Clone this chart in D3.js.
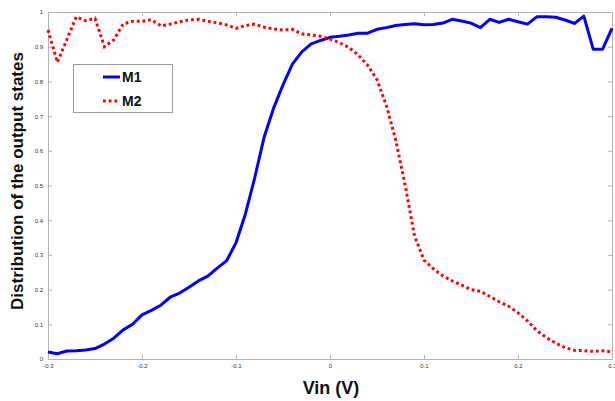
<!DOCTYPE html>
<html>
<head>
<meta charset="utf-8">
<script src="https://cdn.jsdelivr.net/npm/d3@7"></script>
<style>
  html, body { margin: 0; padding: 0; background: #fff; }
  svg { display: block; }
</style>
</head>
<body>
<script>
// ---- data ----
const vin = d3.range(61).map(i => Math.round((-0.3 + i * 0.01) * 100) / 100);
const m1 = [
  0.020, 0.015, 0.023, 0.024, 0.026, 0.030, 0.043, 0.060, 0.084, 0.100,
  0.127, 0.140, 0.155, 0.178, 0.190, 0.207, 0.225, 0.239, 0.262, 0.283,
  0.335, 0.418, 0.523, 0.640, 0.723, 0.790, 0.850, 0.885, 0.908, 0.918,
  0.927, 0.930, 0.934, 0.939, 0.939, 0.950, 0.955, 0.961, 0.964, 0.966,
  0.963, 0.964, 0.968, 0.979, 0.974, 0.968, 0.955, 0.979, 0.970, 0.979,
  0.972, 0.965, 0.986, 0.986, 0.985, 0.977, 0.967, 0.988, 0.893, 0.893,
  0.953
];
const m2 = [
  0.948, 0.855, 0.920, 0.986, 0.975, 0.982, 0.900, 0.920, 0.966, 0.973,
  0.973, 0.978, 0.960, 0.965, 0.972, 0.977, 0.979, 0.973, 0.969, 0.963,
  0.953, 0.961, 0.965, 0.956, 0.951, 0.948, 0.950, 0.937, 0.934, 0.930,
  0.922, 0.912, 0.898, 0.876, 0.847, 0.805, 0.730, 0.630, 0.500, 0.354,
  0.285, 0.260, 0.240, 0.225, 0.213, 0.200, 0.195, 0.180, 0.165, 0.152,
  0.133, 0.110, 0.082, 0.062, 0.046, 0.033, 0.025, 0.024, 0.022, 0.024,
  0.020
];
const xTicks = [-0.3, -0.2, -0.1, 0, 0.1, 0.2, 0.3];
const xTickLabels = ["-0.3", "-0.2", "-0.1", "0", "0.1", "0.2", "0.3"];
const yTicks = [0, 0.1, 0.2, 0.3, 0.4, 0.5, 0.6, 0.7, 0.8, 0.9, 1];
const yTickLabels = ["0", "0.1", "0.2", "0.3", "0.4", "0.5", "0.6", "0.7", "0.8", "0.9", "1"];
const seriesNames = ["M1", "M2"];
const xLabel = "Vin (V)";
const yLabel = "Distribution of the output states";

// ---- layout ----
const W = 615, H = 401;
const L = 48, R = 612, T = 12, B = 359;
const axisColor = "#b4b4b4";
const textColor = "#333";

const svg = d3.select("body").append("svg").attr("width", W).attr("height", H);

const x = d3.scaleLinear().domain([-0.3, 0.3]).range([L, R]);
const y = d3.scaleLinear().domain([0, 1]).range([B, T]);

function styleAxis(g, showText) {
  g.select(".domain").attr("stroke", axisColor);
  g.selectAll(".tick line").attr("stroke", axisColor);
  g.selectAll(".tick text")
    .attr("fill", textColor)
    .style("font-family", "'Liberation Sans', Arial, sans-serif")
    .style("font-size", "6px");
  if (!showText) g.selectAll(".tick text").remove();
}

// bottom
svg.append("g").attr("transform", `translate(0,${B})`)
  .call(d3.axisBottom(x).tickValues(xTicks)
    .tickFormat((d, i) => xTickLabels[i]).tickSizeInner(-4).tickSizeOuter(0).tickPadding(5))
  .call(g => styleAxis(g, true));
// top
svg.append("g").attr("transform", `translate(0,${T})`)
  .call(d3.axisTop(x).tickValues(xTicks).tickSizeInner(-4).tickSizeOuter(0))
  .call(g => styleAxis(g, false));
// left
svg.append("g").attr("transform", `translate(${L},0)`)
  .call(d3.axisLeft(y).tickValues(yTicks)
    .tickFormat((d, i) => yTickLabels[i]).tickSizeInner(-4).tickSizeOuter(0).tickPadding(5))
  .call(g => styleAxis(g, true));
// right
svg.append("g").attr("transform", `translate(${R},0)`)
  .call(d3.axisRight(y).tickValues(yTicks).tickSizeInner(-4).tickSizeOuter(0))
  .call(g => styleAxis(g, false));

// ---- lines ----
const line = d3.line().x((d, i) => x(vin[i])).y(d => y(d));

svg.append("path").datum(m1)
  .attr("d", line).attr("fill", "none")
  .attr("stroke", "#0000ff").attr("stroke-width", 3)
  .attr("stroke-linejoin", "round");

svg.append("path").datum(m2)
  .attr("d", line).attr("fill", "none")
  .attr("stroke", "#ff0000").attr("stroke-width", 3)
  .attr("stroke-dasharray", "2.8,2.9");

// ---- labels ----
svg.append("text")
  .attr("x", 331).attr("y", 394)
  .attr("text-anchor", "middle")
  .style("font-family", "'Liberation Sans', Arial, sans-serif")
  .style("font-weight", "bold").style("font-size", "18px")
  .attr("fill", "#111")
  .text(xLabel);

svg.append("text")
  .attr("transform", "translate(23,181) rotate(-90)")
  .attr("text-anchor", "middle")
  .style("font-family", "'Liberation Sans', Arial, sans-serif")
  .style("font-weight", "bold").style("font-size", "17px")
  .attr("fill", "#111")
  .text(yLabel);

// ---- legend ----
const lg = svg.append("g");
lg.append("rect")
  .attr("x", 73.5).attr("y", 64.5).attr("width", 99).attr("height", 48)
  .attr("fill", "#fff").attr("stroke", "#9a9a9a").attr("stroke-width", 1);
const legendColors = ["#0000ff", "#ff0000"];
const legendDash = [null, "2.8,2.9"];
const legendY = [77, 101];
seriesNames.forEach((name, i) => {
  lg.append("line")
    .attr("x1", 103).attr("x2", 120)
    .attr("y1", legendY[i]).attr("y2", legendY[i])
    .attr("stroke", legendColors[i]).attr("stroke-width", 3)
    .attr("stroke-dasharray", legendDash[i]);
  lg.append("text")
    .attr("x", 122).attr("y", legendY[i] + 5)
    .style("font-family", "'Liberation Sans', Arial, sans-serif")
    .style("font-weight", "bold").style("font-size", "14px")
    .attr("fill", "#111")
    .text(name);
});
</script>
</body>
</html>
